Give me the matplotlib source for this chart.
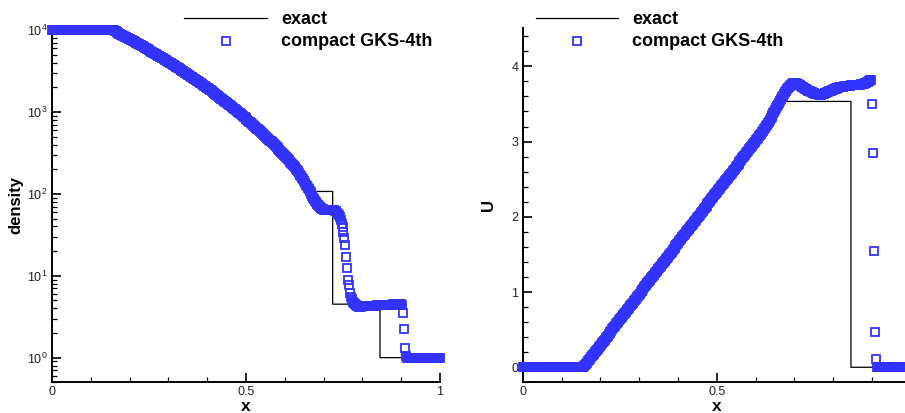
import numpy as np
import matplotlib
matplotlib.use("Agg")
import matplotlib.pyplot as plt
from matplotlib.ticker import MultipleLocator, LogLocator, FixedLocator, NullFormatter
from matplotlib.lines import Line2D

# ---------------- data ----------------
n_cells = 400
x_cells = (np.arange(n_cells) + 0.5) / n_cells   # cell centres of the mesh

density_gks = [
    # x < 0.157 : left state
    1e4, 1e4, 1e4, 1e4, 1e4, 1e4, 1e4, 1e4, 1e4, 1e4,
    1e4, 1e4, 1e4, 1e4, 1e4, 1e4, 1e4, 1e4, 1e4, 1e4,
    1e4, 1e4, 1e4, 1e4, 1e4, 1e4, 1e4, 1e4, 1e4, 1e4,
    1e4, 1e4, 1e4, 1e4, 1e4, 1e4, 1e4, 1e4, 1e4, 1e4,
    1e4, 1e4, 1e4, 1e4, 1e4, 1e4, 1e4, 1e4, 1e4, 1e4,
    1e4, 1e4, 1e4, 1e4, 1e4, 1e4, 1e4, 1e4, 1e4, 1e4,
    1e4, 1e4, 1e4,
    # rarefaction fan
    9900, 9770, 9630, 9490, 9360, 9220, 9080, 8950,
    8820, 8700, 8570, 8450, 8320, 8200, 8070, 7950,
    7830, 7720, 7600, 7490, 7380, 7270, 7150, 7040,
    6930, 6830, 6730, 6630, 6520, 6420, 6320, 6220,
    6120, 6030, 5940, 5840, 5750, 5660, 5560, 5470,
    5390, 5300, 5220, 5140, 5050, 4970, 4880, 4800,
    4720, 4650, 4570, 4500, 4420, 4350, 4270, 4200,
    4130, 4060, 3990, 3930, 3860, 3790, 3720, 3660,
    3590, 3530, 3470, 3410, 3350, 3290, 3230, 3170,
    3120, 3060, 3010, 2960, 2900, 2850, 2790, 2740,
    2690, 2640, 2600, 2550, 2500, 2450, 2400, 2360,
    2310, 2270, 2230, 2190, 2150, 2100, 2060, 2020,
    1980, 1940, 1910, 1870, 1830, 1790, 1760, 1720,
    1690, 1650, 1620, 1590, 1550, 1520, 1490, 1460,
    1430, 1400, 1370, 1340, 1310, 1280, 1260, 1230,
    1200, 1180, 1150, 1130, 1100, 1080, 1050, 1030,
    1006, 985, 963, 942, 920, 899, 877, 856,
    837, 818, 800, 781, 763, 744, 726, 707,
    691, 675, 659, 643, 627, 612, 596, 580,
    566, 552, 539, 526, 512, 499, 485, 472,
    460, 448, 437, 426, 414, 403, 392, 380,
    370, 361, 351, 342, 332, 323, 313, 304,
    295, 287, 279, 271, 264, 256, 248, 240,
    233, 226, 220, 212, 204, 196, 188, 180,
    # tail of the fan, numerical rounding
    172, 164, 157, 150, 143, 136, 130, 124, 119, 114,
    108, 104, 98.9, 94.4, 90.2, 86.1, 82.2, 78.5, 75.3, 72.8,
    70.5, 68.5, 67.0, 65.8, 64.9, 64.1, 63.7,
    # plateau
    63.0, 63.0, 63.0, 63.0, 63.0, 63.0, 63.0, 63.0, 63.0,
    # contact region
    62.4, 61.0, 58.9, 56.9, 55.0, 51.9, 47.3, 43.2, 38.9, 33.9,
    29.2, 24.0, 17.0, 12.3, 8.91, 7.76, 6.17, 5.50, 5.13, 4.84,
    4.62, 4.47, 4.37, 4.29, 4.24, 4.21, 4.20,
    # post-contact plateau
    4.21, 4.22, 4.22, 4.23, 4.24, 4.25, 4.25, 4.26, 4.27, 4.28,
    4.28, 4.29, 4.30, 4.31, 4.31, 4.32, 4.33, 4.34, 4.34, 4.35,
    4.36, 4.37, 4.37, 4.38, 4.39, 4.40, 4.40, 4.41, 4.42, 4.43,
    4.43, 4.44, 4.45, 4.46, 4.46, 4.47, 4.48, 4.49, 4.49, 4.50,
    4.51, 4.52,
    # shock
    4.40, 3.48, 2.22, 1.30, 1.05,
    # right state
    1.0, 1.0, 1.0, 1.0, 1.0, 1.0, 1.0, 1.0, 1.0, 1.0,
    1.0, 1.0, 1.0, 1.0, 1.0, 1.0, 1.0, 1.0, 1.0, 1.0,
    1.0, 1.0, 1.0, 1.0, 1.0, 1.0, 1.0, 1.0, 1.0, 1.0,
    1.0, 1.0, 1.0, 1.0, 1.0,
]

velocity_gks = [
    0.0, 0.0, 0.0, 0.0, 0.0, 0.0, 0.0, 0.0, 0.0, 0.0,
    0.0, 0.0, 0.0, 0.0, 0.0, 0.0, 0.0, 0.0, 0.0, 0.0,
    0.0, 0.0, 0.0, 0.0, 0.0, 0.0, 0.0, 0.0, 0.0, 0.0,
    0.0, 0.0, 0.0, 0.0, 0.0, 0.0, 0.0, 0.0, 0.0, 0.0,
    0.0, 0.0, 0.0, 0.0, 0.0, 0.0, 0.0, 0.0, 0.0, 0.0,
    0.0, 0.0, 0.0, 0.0, 0.0, 0.0, 0.0, 0.0, 0.0, 0.0,
    0.0, 0.0, 0.0,
    0.012, 0.029, 0.046, 0.063, 0.080, 0.097, 0.114,
    0.131, 0.148, 0.164, 0.181, 0.198, 0.215, 0.232, 0.249, 0.266, 0.283,
    0.300, 0.317, 0.334, 0.351, 0.368, 0.385, 0.402, 0.419, 0.436, 0.453,
    0.470, 0.487, 0.504, 0.521, 0.538, 0.555, 0.571, 0.588, 0.605, 0.622,
    0.639, 0.656, 0.673, 0.690, 0.707, 0.724, 0.741, 0.758, 0.775, 0.792,
    0.809, 0.826, 0.843, 0.860, 0.877, 0.894, 0.911, 0.928, 0.945, 0.961,
    0.978, 0.995, 1.012, 1.029, 1.046, 1.063, 1.080, 1.097, 1.114, 1.131,
    1.148, 1.165, 1.182, 1.199, 1.216, 1.233, 1.250, 1.267, 1.284, 1.301,
    1.318, 1.335, 1.352, 1.368, 1.385, 1.402, 1.419, 1.436, 1.453, 1.470,
    1.487, 1.504, 1.521, 1.538, 1.555, 1.572, 1.589, 1.606, 1.623, 1.640,
    1.657, 1.674, 1.691, 1.708, 1.725, 1.742, 1.758, 1.775, 1.792, 1.809,
    1.826, 1.843, 1.860, 1.877, 1.894, 1.911, 1.928, 1.945, 1.962, 1.979,
    1.996, 2.013, 2.030, 2.047, 2.064, 2.081, 2.098, 2.115, 2.132, 2.149,
    2.165, 2.182, 2.199, 2.216, 2.233, 2.250, 2.267, 2.284, 2.301, 2.318,
    2.335, 2.352, 2.369, 2.386, 2.403, 2.420, 2.437, 2.454, 2.471, 2.488,
    2.505, 2.522, 2.539, 2.555, 2.572, 2.589, 2.606, 2.623, 2.640, 2.657,
    2.674, 2.691, 2.708, 2.725, 2.742, 2.759, 2.776, 2.793, 2.810, 2.827,
    2.844, 2.861, 2.878, 2.895, 2.912, 2.929, 2.946, 2.962,
    2.980, 2.997, 3.015, 3.033, 3.051, 3.069, 3.087, 3.105, 3.124, 3.143,
    3.162, 3.182, 3.202, 3.222, 3.243, 3.264, 3.285, 3.307, 3.329, 3.351,
    3.374, 3.397, 3.420, 3.443, 3.467, 3.491, 3.515, 3.539, 3.563, 3.587,
    3.611, 3.634, 3.656, 3.677, 3.697, 3.715, 3.731, 3.745, 3.757, 3.767,
    3.774, 3.778, 3.780, 3.778, 3.772,
    3.764, 3.756, 3.748, 3.740, 3.732, 3.724, 3.716, 3.708, 3.700, 3.693,
    3.686, 3.679, 3.672, 3.666, 3.660, 3.654, 3.648, 3.643, 3.638, 3.634,
    3.630, 3.627, 3.625, 3.624, 3.625, 3.628, 3.633, 3.638, 3.643, 3.648,
    3.654, 3.660, 3.666, 3.672, 3.678, 3.684, 3.690, 3.695, 3.700, 3.705,
    3.709, 3.713, 3.717, 3.720, 3.723, 3.726, 3.729, 3.732, 3.734, 3.736,
    3.738, 3.740, 3.742, 3.744, 3.745, 3.747, 3.748, 3.750, 3.751, 3.752,
    3.753, 3.754, 3.755, 3.756, 3.758, 3.760, 3.763, 3.766, 3.770, 3.775,
    3.780, 3.786, 3.793, 3.800, 3.808, 3.816, 3.824,
    3.50, 2.85, 1.55, 0.47, 0.11,
    0.0, 0.0, 0.0, 0.0, 0.0, 0.0, 0.0, 0.0, 0.0, 0.0,
    0.0, 0.0, 0.0, 0.0, 0.0, 0.0, 0.0, 0.0, 0.0, 0.0,
    0.0, 0.0, 0.0, 0.0, 0.0, 0.0, 0.0, 0.0, 0.0, 0.0,
    0.0, 0.0, 0.0, 0.0, 0.0,
]

x_exact_rho = [0.0, 0.157, 0.177, 0.197, 0.217, 0.237, 0.257, 0.277, 0.297, 0.317,
               0.337, 0.357, 0.377, 0.397, 0.417, 0.437, 0.457, 0.477, 0.497, 0.517,
               0.537, 0.557, 0.577, 0.597, 0.617, 0.637, 0.657, 0.678,
               0.7234, 0.7234, 0.8454, 0.8454, 1.0]
rho_exact = [1e4, 1e4, 8907, 7910, 7006, 6186, 5444, 4776, 4175, 3636,
             3154, 2724, 2343, 2006, 1708, 1447, 1219, 1021, 849, 702,
             575, 468, 377, 301, 238, 185, 143, 107,
             107, 4.5, 4.5, 1.0, 1.0]

x_exact_u = [0.0, 0.157, 0.678, 0.846, 0.846, 1.0]
u_exact = [0.0, 0.0, 3.534, 3.534, 0.0, 0.0]

x_ticks_left = [0, 0.5, 1]
x_labels_left = ["0", "0.5", "1"]
x_ticks_right = [0, 0.5]
x_labels_right = ["0", "0.5"]
u_ticks = [0, 1, 2, 3, 4]
legend_labels = ["exact", "compact GKS-4th"]

# ---------------- style ----------------
plt.rcParams['font.family'] = ['Liberation Sans', 'DejaVu Sans']
plt.rcParams['mathtext.fontset'] = 'custom'
plt.rcParams['mathtext.rm'] = 'Liberation Sans'
plt.rcParams['mathtext.it'] = 'Liberation Sans:italic'
plt.rcParams['mathtext.bf'] = 'Liberation Sans:bold'

BLUE = '#3333ff'
W, H = 905.0, 413.0
MS, MEW = 5.5, 1.3

fig = plt.figure(figsize=(9.05, 4.13), dpi=100)
fig.patch.set_facecolor('white')


def rect(left, top, w, h):
    return [left / W, 1 - (top + h) / H, w / W, h / H]


ax1 = fig.add_axes(rect(52, 28, 388, 354.3))
ax2 = fig.add_axes(rect(522.7, 28, 388, 354.3))

mk = dict(ls='none', marker='s', ms=MS, mfc='none', mec=BLUE, mew=MEW,
          clip_on=False, zorder=3)

# density panel
ax1.plot(x_exact_rho, rho_exact, color='k', lw=0.9, zorder=2)
ax1.plot(x_cells, density_gks, **mk)
ax1.set_yscale('log')
ax1.set_xlim(0, 1)
ax1.set_ylim(0.5, 1.06e4)
ax1.yaxis.set_major_locator(LogLocator(base=10, numticks=10))
ax1.yaxis.set_minor_locator(LogLocator(base=10, subs=np.arange(2, 10), numticks=20))
ax1.yaxis.set_minor_formatter(NullFormatter())
ax1.set_ylabel('density', fontsize=12, fontweight='bold')
ax1.yaxis.set_label_coords(-0.0735, 0.5)
ax1.set_xticks(x_ticks_left)
ax1.set_xticklabels(x_labels_left)

# velocity panel
ax2.plot(x_exact_u, u_exact, color='k', lw=0.9, zorder=2)
ax2.plot(x_cells, velocity_gks, **mk)
ax2.set_xlim(0, 1)
ax2.set_ylim(-0.2, 4.51)
ax2.yaxis.set_major_locator(FixedLocator(u_ticks))
ax2.yaxis.set_minor_locator(MultipleLocator(0.2))
ax2.set_ylabel('U', fontsize=12, fontweight='bold')
ax2.yaxis.set_label_coords(-0.069, 0.5)
ax2.set_xticks(x_ticks_right)
ax2.set_xticklabels(x_labels_right)

for ax in (ax1, ax2):
    ax.xaxis.set_minor_locator(MultipleLocator(0.1))
    ax.spines['top'].set_visible(False)
    ax.spines['right'].set_visible(False)
    for s in ('left', 'bottom'):
        ax.spines[s].set_linewidth(1.4)
    ax.tick_params(which='major', direction='in', length=6.5, width=1.2,
                   labelsize=9, pad=3.0, labelcolor='#222222')
    ax.tick_params(which='minor', direction='in', length=3.8, width=0.9)
    ax.set_xlabel('x', fontsize=12.5, fontweight='bold')
    ax.xaxis.set_label_coords(0.5, -0.047)
    ax.set_facecolor('none')

# legends (frameless, above each panel)
for line_x0, line_x1, sq_x, txt_x in ((184, 267, 226, 281), (536, 618, 577, 632.3)):
    fig.add_artist(Line2D([line_x0 / W, line_x1 / W], [1 - 18 / H, 1 - 18 / H],
                          color='k', lw=0.9))
    fig.add_artist(Line2D([sq_x / W], [1 - 40.7 / H], ls='none', marker='s',
                          ms=MS, mfc='none', mec=BLUE, mew=MEW))
    fig.text(txt_x / W, 1 - 24 / H, legend_labels[0], fontsize=13,
             fontweight='bold', va='baseline', ha='left')
    fig.text(txt_x / W, 1 - 46 / H, legend_labels[1], fontsize=13,
             fontweight='bold', va='baseline', ha='left')

fig.savefig('out.png', dpi=100, facecolor='white')
